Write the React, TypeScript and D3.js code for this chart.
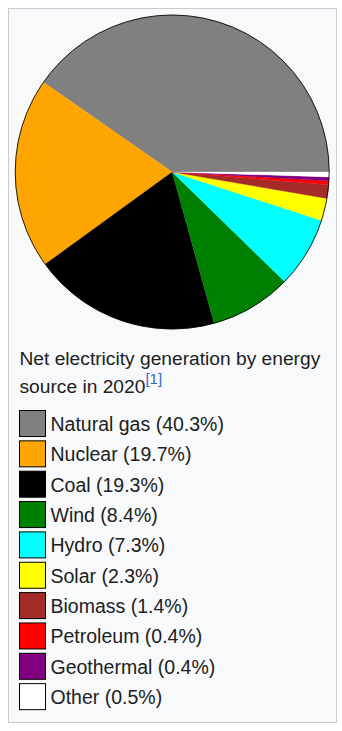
import React from "react";
import * as d3 from "d3";

const categories = ["Natural gas", "Nuclear", "Coal", "Wind", "Hydro", "Solar", "Biomass", "Petroleum", "Geothermal", "Other"];
const shares = [40.3, 19.7, 19.3, 8.4, 7.3, 2.3, 1.4, 0.4, 0.4, 0.5];
const colors = ["#808080", "#FFA500", "#000000", "#008000", "#00FFFF", "#FFFF00", "#A52A2A", "#FF0000", "#800080", "#FFFFFF"];
const titleLines = ["Net electricity generation by energy", "source in 2020"];
const footnote = "[1]";

export default function App() {
  const W = 342, H = 731;
  const cx = 172.2, cy = 172, r = 157;
  const data = categories.map((c, i) => ({ c, v: shares[i], color: colors[i] }));
  const pie = d3.pie<any>().sort(null).value((d: any) => d.v)
    .startAngle(Math.PI / 2).endAngle(Math.PI / 2 - 2 * Math.PI);
  const arcs = pie(data);
  const arcGen = d3.arc<any>().innerRadius(0).outerRadius(r);
  const rowY = d3.scaleLinear().domain([0, 1]).range([410.5, 440.85]);
  const font = "'Liberation Sans', Arial, sans-serif";
  return (
    <svg width={W} height={H} style={{ position: "absolute", left: 0, top: 0 }} fontFamily={font}>
      <rect x={8.5} y={8.5} width={328} height={714} fill="#f8f9fa" stroke="#c8ccd1" />
      <g transform={`translate(${cx},${cy})`}>
        {arcs.map((a, i) => (
          <path key={i} d={arcGen(a) as string} fill={a.data.color} stroke={a.data.color} strokeWidth={0.3} />
        ))}
        <circle r={r} fill="none" stroke="#000" strokeWidth={1} strokeOpacity={0.85} />
      </g>
      <text x={19.5} y={365} fontSize={19.2} fill="#202122">{titleLines[0]}</text>
      <text x={19.5} y={392.7} fontSize={19.2} fill="#202122">
        {titleLines[1]}
        <tspan fontSize={15} dy={-8.5} fill="#3366cc">{footnote}</tspan>
      </text>
      {data.map((d, i) => (
        <g key={d.c}>
          <rect x={19.5} y={rowY(i)} width={26} height={26} fill={d.color} stroke="#000" strokeWidth={1} />
          <text x={50.5} y={rowY(i) + 20.5} fontSize={19.5} fill="#202122">{`${d.c} (${d.v}%)`}</text>
        </g>
      ))}
    </svg>
  );
}
